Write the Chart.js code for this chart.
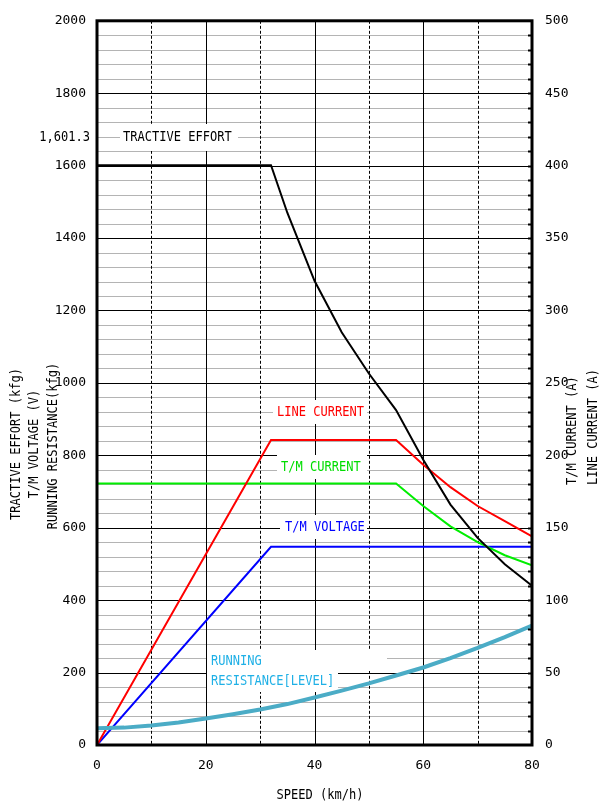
<!DOCTYPE html>
<html lang="en">
<head>
<meta charset="UTF-8">
<title>Tractive Effort Curve</title>
<script src="https://cdn.jsdelivr.net/npm/chart.js@4.4.1/dist/chart.umd.min.js"></script>
<style>
    * { margin: 0; padding: 0; }
    body { background: #fff; }
</style>
</head>
<body>
<canvas id="curve" width="606" height="806"></canvas>
<script>
    // values (speed in km/h)
    const effortSpeed = [0, 32, 35, 40, 45, 50, 55, 60, 65, 70, 75, 80];
    const effortKgf = [1601.3, 1601.3, 1470, 1282, 1140, 1026, 925, 788, 664, 572, 499, 440];

    const voltageSpeed = [0, 32, 80];
    const voltageV = [0, 547.5, 547.5];

    const resistSpeed = [0, 5, 10, 15, 20, 25, 30, 35, 40, 45, 50, 55, 60, 65, 70, 75, 80];
    const resistKgf = [46, 48, 54, 62, 73, 85, 98, 113, 131, 150, 170, 192, 214, 240, 268, 298, 330];

    const lineCurSpeed = [0, 32, 55, 60, 65, 70, 75, 80];
    const lineCurA = [0, 210.5, 210.5, 193.5, 178, 165, 154.5, 144];

    const tmCurSpeed = [0, 55, 60, 65, 70, 75, 80];
    const tmCurA = [180.5, 180.5, 165, 151, 140, 131, 124];

    const xTicks = [0, 20, 40, 60, 80];

    const MONO = "'DejaVu Sans Mono', monospace";

    function pts(xs, ys) {
        return xs.map((v, i) => ({ x: v, y: ys[i] }));
    }

    // narrow, tall text like the original gothic font
    function gothic(ctx, text, x, y, color, align, rotated) {
        ctx.save();
        ctx.translate(x, y);
        if (rotated) ctx.rotate(-Math.PI / 2);
        ctx.scale(0.86, 1);
        ctx.font = '14px ' + MONO;
        ctx.fillStyle = color;
        ctx.textAlign = align || 'left';
        ctx.textBaseline = 'middle';
        ctx.fillText(text, 0, 0);
        ctx.restore();
    }

    function hline(ctx, x1, x2, y) {
        ctx.beginPath();
        ctx.moveTo(x1, y);
        ctx.lineTo(x2, y);
        ctx.stroke();
    }

    function vline(ctx, x, y1, y2) {
        ctx.beginPath();
        ctx.moveTo(x, y1);
        ctx.lineTo(x, y2);
        ctx.stroke();
    }

    const paper = {
        id: 'paper',
        beforeDatasetsDraw(chart) {
            const { ctx, chartArea: a, scales } = chart;
            const x = scales.x, y = scales.y;
            ctx.save();
            ctx.lineWidth = 1;

            ctx.strokeStyle = '#b4b4b4';
            for (let v = 40; v < 2000; v += 40) {
                if (v % 200 === 0) continue;
                hline(ctx, a.left, a.right, Math.round(y.getPixelForValue(v)) + 0.5);
            }
            ctx.strokeStyle = '#000';
            for (let v = 200; v < 2000; v += 200) {
                hline(ctx, a.left, a.right, Math.round(y.getPixelForValue(v)) + 0.5);
            }
            for (let v = 10; v < 80; v += 10) {
                ctx.setLineDash(v % 20 === 0 ? [] : [3, 2]);
                vline(ctx, Math.round(x.getPixelForValue(v)) + 0.5, a.top, a.bottom);
            }
            ctx.setLineDash([]);

            // white boxes behind the curve names
            ctx.fillStyle = '#fff';
            ctx.fillRect(120, 124, 118, 27);
            ctx.fillRect(273, 400, 94, 24);
            ctx.fillRect(277, 455, 90, 24);
            ctx.fillRect(280, 515, 87, 24);
            ctx.fillRect(207, 650, 180, 21);
            ctx.fillRect(207, 670, 131, 22);
            ctx.restore();
        },
        afterDraw(chart) {
            const { ctx, chartArea: a, scales } = chart;
            const y = scales.y;
            ctx.save();

            // small tick marks inside the right edge
            ctx.strokeStyle = '#000';
            ctx.lineWidth = 2;
            for (let v = 40; v < 2000; v += 40) {
                hline(ctx, a.right - 4, a.right, Math.round(y.getPixelForValue(v)) + 0.5);
            }

            ctx.lineWidth = 3;
            ctx.strokeRect(a.left, a.top, a.right - a.left, a.bottom - a.top);

            gothic(ctx, '1,601.3', 90, 137, '#000', 'right');
            gothic(ctx, 'TRACTIVE EFFORT', 123, 137, '#000');
            gothic(ctx, 'LINE CURRENT', 277, 412, '#ff0000');
            gothic(ctx, 'T/M CURRENT', 281, 467, '#00dd00');
            gothic(ctx, 'T/M VOLTAGE', 285, 527, '#0000ff');
            gothic(ctx, 'RUNNING', 211, 661, '#1fb0e6');
            gothic(ctx, 'RESISTANCE[LEVEL]', 211, 681, '#1fb0e6');

            gothic(ctx, 'TRACTIVE EFFORT (kfg)', 16, 444, '#000', 'center', true);
            gothic(ctx, 'T/M VOLTAGE (V)', 34, 444, '#000', 'center', true);
            gothic(ctx, 'RUNNING RESISTANCE(kfg)', 53, 446, '#000', 'center', true);
            gothic(ctx, 'T/M CURRENT (A)', 572, 485, '#000', 'left', true);
            gothic(ctx, 'LINE CURRENT (A)', 593, 485, '#000', 'left', true);
            gothic(ctx, 'SPEED (km/h)', 320, 795, '#000', 'center');
            ctx.restore();
        }
    };

    const tickFont = { family: MONO, size: 13 };
    const plain = v => String(v);

    new Chart(document.getElementById('curve'), {
        type: 'line',
        data: {
            datasets: [
                {
                    label: 'RUNNING RESISTANCE',
                    data: pts(resistSpeed, resistKgf),
                    yAxisID: 'y',
                    borderColor: '#4bacc6',
                    borderWidth: 4
                },
                {
                    label: 'TRACTIVE EFFORT',
                    data: pts(effortSpeed, effortKgf),
                    yAxisID: 'y',
                    borderColor: '#000000',
                    borderWidth: 2
                },
                {
                    label: 'LINE CURRENT',
                    data: pts(lineCurSpeed, lineCurA),
                    yAxisID: 'y1',
                    borderColor: '#ff0000',
                    borderWidth: 2
                },
                {
                    label: 'T/M CURRENT',
                    data: pts(tmCurSpeed, tmCurA),
                    yAxisID: 'y1',
                    borderColor: '#00ee00',
                    borderWidth: 2
                },
                {
                    label: 'T/M VOLTAGE',
                    data: pts(voltageSpeed, voltageV),
                    yAxisID: 'y',
                    borderColor: '#0000ff',
                    borderWidth: 2
                }
            ]
        },
        options: {
            responsive: false,
            animation: false,
            events: [],
            elements: {
                point: { radius: 0 },
                line: { tension: 0, borderCapStyle: 'butt' }
            },
            layout: { padding: { top: 17, left: 0, right: 0, bottom: 0 } },
            plugins: {
                legend: { display: false },
                tooltip: { enabled: false }
            },
            scales: {
                x: {
                    type: 'linear',
                    min: 0,
                    max: 80,
                    afterBuildTicks: s => { s.ticks = xTicks.map(v => ({ value: v })); },
                    afterFit: s => { s.height = 61; },
                    grid: { display: false, drawTicks: false },
                    border: { display: false },
                    ticks: { font: tickFont, color: '#000', padding: 13, autoSkip: false, maxRotation: 0, callback: plain }
                },
                y: {
                    position: 'left',
                    min: 0,
                    max: 2000,
                    afterFit: s => { s.width = 97; },
                    grid: { display: false, drawTicks: false },
                    border: { display: false },
                    ticks: { stepSize: 200, font: tickFont, color: '#000', padding: 11, callback: plain }
                },
                y1: {
                    position: 'right',
                    min: 0,
                    max: 500,
                    afterFit: s => { s.width = 74; },
                    grid: { display: false, drawTicks: false },
                    border: { display: false },
                    ticks: { stepSize: 50, font: tickFont, color: '#000', padding: 13, callback: plain }
                }
            }
        },
        plugins: [paper]
    });
</script>
</body>
</html>
